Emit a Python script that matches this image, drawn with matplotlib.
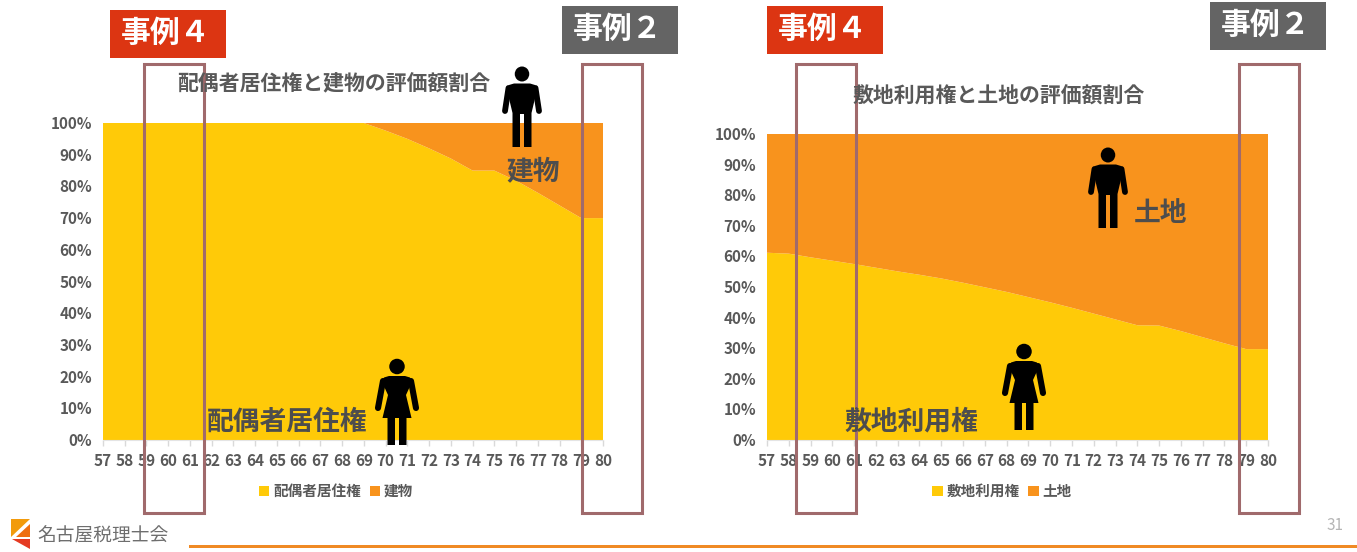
import matplotlib
matplotlib.use('Agg')
import matplotlib.pyplot as plt
from matplotlib.patches import Rectangle, Polygon, Ellipse
from matplotlib.lines import Line2D
from matplotlib.transforms import ScaledTranslation

plt.rcParams['font.family'] = ['Noto Sans CJK JP', 'DejaVu Sans']
plt.rcParams['font.weight'] = 'bold'

W, H = 1357, 552

ages = list(range(57, 81))
residence_right = [100, 100, 100, 100, 100, 100, 100, 100, 100, 100, 100, 100, 100,
                   97.6, 95, 92, 88.8, 85, 85, 81.8, 78, 74, 70, 70]
building = [100 - v for v in residence_right]
site_right = [61.2, 60.9, 59.7, 58.6, 57.5, 56.3, 55.1, 54, 52.8, 51.4, 49.9, 48.4,
              46.7, 45, 43.2, 41.3, 39.4, 37.5, 37.4, 35.6, 33.6, 31.6, 29.7, 29.7]
land = [100 - v for v in site_right]
y_ticks = [0, 10, 20, 30, 40, 50, 60, 70, 80, 90, 100]

YELLOW = '#FFCA08'
ORANGE = '#F8931D'
TEXT = '#595959'
DARK = '#4D4D4D'
FRAME = '#A06A6C'
RED = '#DC3512'
GRAY = '#646464'

fig = plt.figure(figsize=(W / 100, H / 100), dpi=100, facecolor='white')


def chart(left, right, top, bottom, values, rest, names, legend_x):
    ax = fig.add_axes([left / W, 1 - bottom / H, (right - left) / W, (bottom - top) / H])
    ax.stackplot(ages, values, rest, colors=[YELLOW, ORANGE], labels=names, lw=0)
    ax.set_xlim(57, 80)
    ax.set_ylim(0, 100)
    ax.set_xticks(ages)
    ax.set_yticks(y_ticks)
    ax.set_yticklabels([f'{v}%' for v in y_ticks], va='center')
    ax.tick_params(axis='x', colors='#D9D9D9', length=4, width=1, labelcolor=TEXT,
                   labelsize=11, pad=5)
    ax.tick_params(axis='y', length=0, labelcolor=TEXT, labelsize=11, pad=8)
    # nudge the percent labels down a pixel
    nudge = ScaledTranslation(0, -1 / 100, fig.dpi_scale_trans)
    for lab in ax.get_yticklabels():
        lab.set_transform(lab.get_transform() + nudge)
    for s in ['top', 'left', 'right']:
        ax.spines[s].set_visible(False)
    ax.spines['bottom'].set_color('#E4E4E4')
    fig.legend(*ax.get_legend_handles_labels(), loc='center', ncol=2,
               bbox_to_anchor=(legend_x / W, 1 - 491 / H), frameon=False,
               fontsize=10.5, labelcolor=TEXT, handlelength=0.72, handleheight=0.72,
               handletextpad=0.25, columnspacing=0.6, borderpad=0)
    return ax


chart(103, 603, 123, 440, residence_right, building, ['配偶者居住権', '建物'], 336)
chart(767, 1268, 134, 440, site_right, land, ['敷地利用権', '土地'], 1002)

# overlay in pixel coordinates for the slide furniture
over = fig.add_axes([0, 0, 1, 1], zorder=5)
over.set_xlim(0, W)
over.set_ylim(H, 0)
over.axis('off')
over.patch.set_alpha(0)


def man(cx, top, s=1.0):
    over.add_patch(Ellipse((cx, top + 7 * s), 14.5 * s, 15 * s, color='black', lw=0))
    body = [(-8, 16.5), (8, 16.5), (13, 18), (15, 23), (9.5, 46), (9.5, 80), (2, 80), (2, 47),
            (-2, 47), (-2, 80), (-9.5, 80), (-9.5, 46), (-15, 23), (-13, 18)]
    over.add_patch(Polygon([(cx + a * s, top + b * s) for a, b in body], color='black', lw=0))
    for d in (-1, 1):
        over.add_line(Line2D([cx + d * 13.5 * s, cx + d * 17 * s], [top + 21 * s, top + 44 * s],
                             color='black', lw=4.2 * s, solid_capstyle='round'))


def woman(cx, top, s=1.0):
    over.add_patch(Ellipse((cx, top + 7.5 * s), 15.5 * s, 15.5 * s, color='black', lw=0))
    body = [(-8, 17), (8, 17), (13, 18.5), (15, 23), (9, 36), (14.5, 59), (9.5, 59), (9.5, 86), (2, 86),
            (2, 59), (-2, 59), (-2, 86), (-9.5, 86), (-9.5, 59), (-14.5, 59), (-9, 36), (-15, 23), (-13, 18.5)]
    over.add_patch(Polygon([(cx + a * s, top + b * s) for a, b in body], color='black', lw=0))
    for d in (-1, 1):
        over.add_line(Line2D([cx + d * 14 * s, cx + d * 19 * s], [top + 22 * s, top + 49 * s],
                             color='black', lw=4.4 * s, solid_capstyle='round'))


man(522, 67)
man(1108, 148)
woman(397, 359)
woman(1024, 344)

over.text(334, 84, '配偶者居住権と建物の評価額割合', fontsize=15, color=TEXT, ha='center', va='center')
over.text(999, 96, '敷地利用権と土地の評価額割合', fontsize=15, color=TEXT, ha='center', va='center')
over.text(287, 422, '配偶者居住権', fontsize=19.3, color=DARK, ha='center', va='center')
over.text(533, 171, '建物', fontsize=19.3, color=DARK, ha='center', va='center')
over.text(911, 422, '敷地利用権', fontsize=19.3, color=DARK, ha='center', va='center')
over.text(1161, 213, '土地', fontsize=19.3, color=DARK, ha='center', va='center')

# case highlight frames
for x0, x1 in [(143.5, 203.5), (581.5, 641.5), (795.5, 855.5), (1238.5, 1298.5)]:
    over.add_patch(Rectangle((x0, 63.5), x1 - x0, 449.5, fill=False, ec=FRAME, lw=2.2, joinstyle='miter'))

# case tags
tags = [(110, 10, RED, '事例４'), (562, 6, GRAY, '事例２'),
        (767, 6, RED, '事例４'), (1210, 2, GRAY, '事例２')]
for x0, y0, col, label in tags:
    over.add_patch(Rectangle((x0, y0), 115.5, 48, color=col, lw=0))
    over.text(x0 + 56, y0 + 23, label, color='white', fontsize=21.5, ha='center', va='center')

# footer
over.add_patch(Rectangle((189, 544.5), W - 189, 3, color='#F08A24', lw=0))
over.text(1335, 526, '31', color='#B5B5B5', fontsize=11, ha='center', va='center', fontweight='normal')
over.add_patch(Polygon([(11, 519), (30, 519), (11, 537)], color='#F29B0C', lw=0))
over.add_patch(Polygon([(30, 524), (30, 537), (16, 537)], color='#EE6F12', lw=0))
over.add_patch(Polygon([(12, 539), (30, 539), (30, 549)], color='#E53A22', lw=0))
over.text(103, 536, '名古屋税理士会', color='#6E6E6E', fontsize=13.5, ha='center', va='center',
          fontweight='normal')

fig.savefig('out.png', dpi=100, facecolor='white')
